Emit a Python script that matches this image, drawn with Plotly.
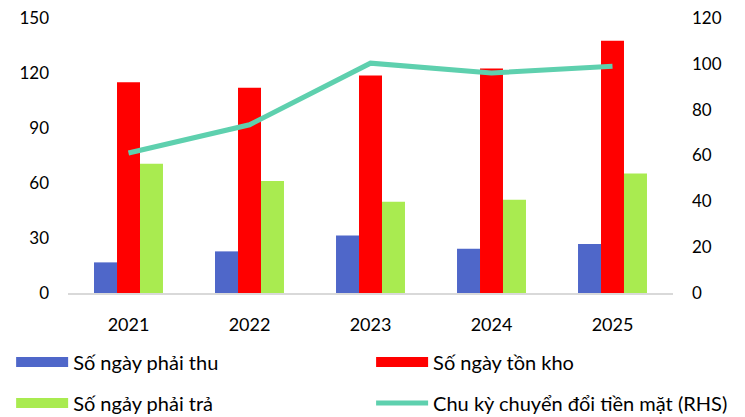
import plotly.graph_objects as go

# Data
years = ["2021", "2022", "2023", "2024", "2025"]
phai_thu = [16.7, 22.7, 31.4, 24.2, 26.7]
ton_kho = [114.9, 112.0, 118.7, 122.5, 137.6]
phai_tra = [70.5, 61.1, 49.8, 50.9, 65.2]
ccc = [61.1, 73.4, 100.3, 96.0, 98.9]

names = ["Số ngày phải thu", "Số ngày tồn kho", "Số ngảy phải trả", "Chu kỳ chuyển đổi tiền mặt (RHS)"]
colors = ["#4F67C9", "#FF0000", "#A9EB50", "#5ED0AE"]

fig = go.Figure()

for vals, nm, c in zip([phai_thu, ton_kho, phai_tra], names[:3], colors[:3]):
    fig.add_bar(x=years, y=vals, name=nm, marker=dict(color=c, line=dict(width=0)),
                showlegend=False)

fig.add_scatter(x=years, y=ccc, name=names[3], mode="lines", yaxis="y2",
                line=dict(color=colors[3], width=5), showlegend=False)

# legend: one small legend per entry, laid out as a 2x2 grid
legend_ids = ["legend", "legend2", "legend3", "legend4"]
for nm, c, lg in zip(names, colors, legend_ids):
    fig.add_scatter(x=[None], y=[None], mode="lines", name=nm, legend=lg,
                    line=dict(color=c, width=12 if c != colors[3] else 5))

leg = dict(orientation="h", xanchor="left", yanchor="middle", itemwidth=52,
           font=dict(size=20), bgcolor="rgba(0,0,0,0)")

fig.update_layout(
    width=745, height=417,
    margin=dict(l=68, r=72, t=18, b=124, autoexpand=False),
    plot_bgcolor="white", paper_bgcolor="white",
    font=dict(family="Lato, Open Sans, sans-serif", size=17, color="black"),
    barmode="group", bargap=0.43, bargroupgap=0,
    xaxis=dict(showline=True, linecolor="#D9D9D9", linewidth=2, ticks="",
               tickfont=dict(size=18), ticklabelstandoff=14, automargin=False),
    yaxis=dict(range=[0, 150], tickvals=[0, 30, 60, 90, 120, 150],
               showgrid=False, zeroline=False, ticklabelstandoff=18,
               automargin=False),
    yaxis2=dict(range=[0, 120], tickvals=[0, 20, 40, 60, 80, 100, 120],
                overlaying="y", side="right", showgrid=False, zeroline=False,
                ticklabelstandoff=18, automargin=False),
    legend=dict(leg, x=-0.094, y=-0.251),
    legend2=dict(leg, x=0.501, y=-0.251),
    legend3=dict(leg, x=-0.094, y=-0.4),
    legend4=dict(leg, x=0.501, y=-0.4),
)

fig.write_html("out.html", config={"displayModeBar": False},
               post_script="document.body.style.margin='0';")
